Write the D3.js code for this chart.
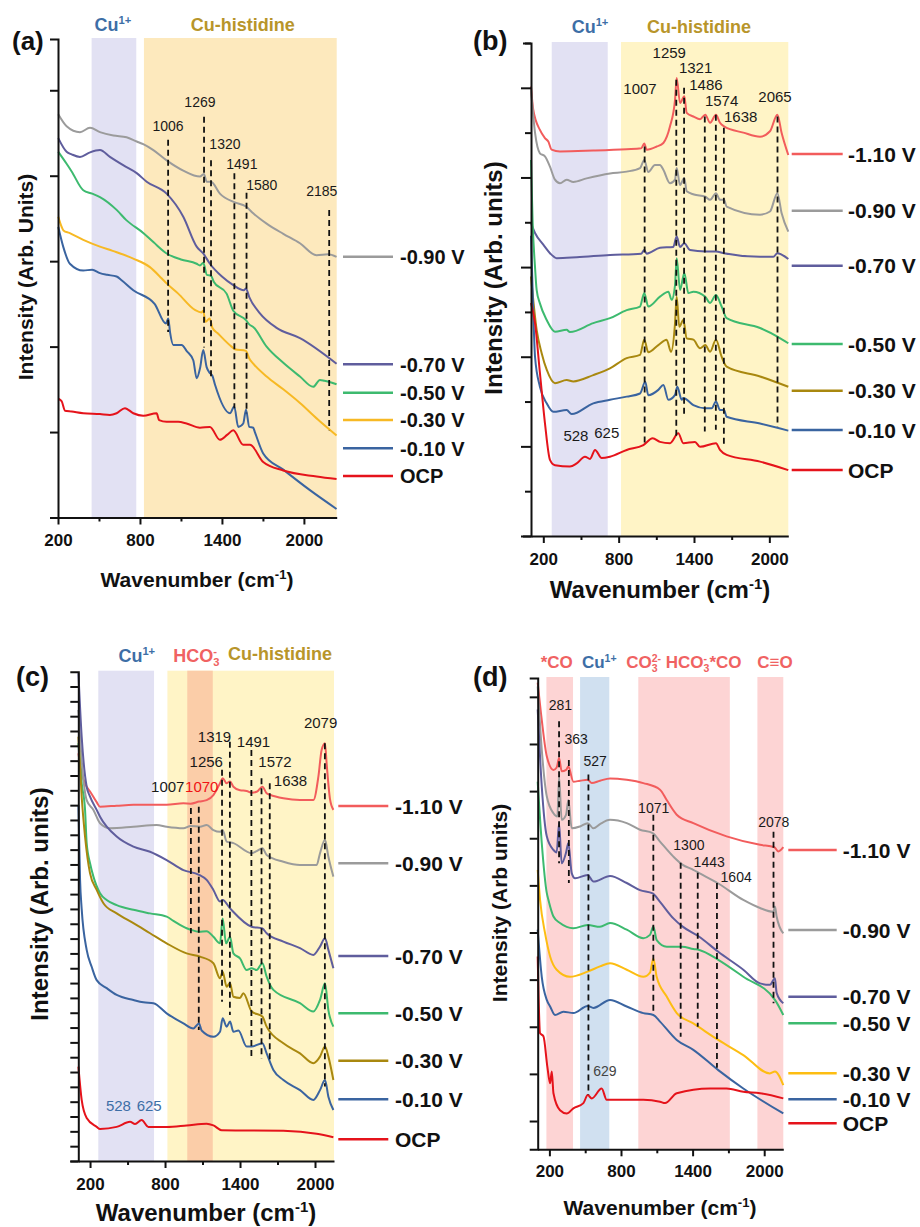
<!DOCTYPE html>
<html>
<head>
<meta charset="utf-8">
<script src="https://cdn.jsdelivr.net/npm/d3@7"></script>
<style>
  body { margin: 0; background: #fff; }
  svg { display: block; font-family: "Liberation Sans", Arial, sans-serif; }
</style>
</head>
<body>
<svg id="fig" width="920" height="1227"></svg>
<script>
// ---- data: [wavenumber, intensity (arb.)] ----
const xMajor = [200, 800, 1400, 2000];
const xMinor = [500, 1100, 1700];

// (a)
const a_m090 = [[202,4.72],[263,4.58],[361,4.51],[434,4.56],[507,4.51],[605,4.47],[702,4.45],[776,4.40],[824,4.37],[898,4.30],[995,4.18],[1117,4.06],[1239,3.99],[1268,4.02],[1288,3.93],[1320,3.93],[1385,3.79],[1490,3.69],[1576,3.64],[1629,3.56],[1727,3.44],[1849,3.32],[1971,3.21],[2093,3.07],[2178,3.08],[2239,3.05]];
const a_m070 = [[202,4.44],[263,4.28],[300,4.25],[361,4.22],[430,4.27],[507,4.30],[580,4.22],[680,4.12],[776,4.03],[849,3.93],[995,3.79],[1117,3.52],[1215,3.17],[1263,3.09],[1312,2.97],[1400,2.82],[1483,2.72],[1560,2.66],[1576,2.68],[1600,2.58],[1678,2.39],[1800,2.22],[1971,2.10],[2239,1.80]];
const a_m050 = [[202,4.28],[263,4.14],[300,4.05],[385,3.83],[450,3.79],[507,3.75],[629,3.60],[700,3.48],[824,3.33],[900,3.22],[995,3.09],[1100,3.02],[1215,2.97],[1239,2.95],[1263,2.98],[1290,2.84],[1320,2.83],[1340,2.76],[1434,2.62],[1483,2.42],[1576,2.31],[1600,2.26],[1629,2.23],[1727,2.00],[1849,1.81],[1971,1.65],[2068,1.53],[2117,1.61],[2150,1.60],[2239,1.56]];
const a_m030 = [[202,3.52],[227,3.40],[240,3.36],[283,3.33],[385,3.25],[507,3.17],[600,3.12],[751,3.03],[873,2.93],[958,2.80],[995,2.74],[1080,2.62],[1202,2.43],[1251,2.40],[1263,2.42],[1280,2.29],[1310,2.33],[1330,2.22],[1373,2.15],[1470,2.00],[1495,1.97],[1576,1.95],[1600,1.86],[1629,1.80],[1727,1.65],[1849,1.50],[1971,1.34],[2100,1.15],[2239,0.96]];
const a_m010 = [[202,3.40],[238,3.17],[287,2.97],[385,2.89],[450,2.90],[507,2.86],[560,2.84],[629,2.82],[663,2.78],[751,2.66],[907,2.50],[990,2.27],[1007,2.33],[1020,2.17],[1044,2.02],[1105,2.02],[1141,1.95],[1190,1.84],[1215,1.63],[1240,1.75],[1263,1.96],[1288,1.76],[1312,1.69],[1330,1.66],[1350,1.55],[1459,1.22],[1490,1.30],[1519,1.06],[1556,1.10],[1576,1.26],[1600,1.06],[1629,1.05],[1641,1.00],[1702,0.75],[1849,0.56],[2044,0.32],[2239,0.10]];
const a_ocp = [[202,1.39],[227,1.36],[251,1.25],[300,1.24],[385,1.22],[507,1.21],[580,1.20],[629,1.22],[690,1.28],[751,1.22],[824,1.19],[922,1.22],[940,1.14],[995,1.12],[1080,1.12],[1141,1.10],[1239,1.05],[1312,1.06],[1385,0.91],[1440,0.97],[1483,1.02],[1556,0.85],[1605,0.85],[1702,0.65],[1849,0.55],[2093,0.48],[2239,0.45]];
const a_peaks = [1006, 1269, 1320, 1491, 1580, 2185];

// (b)
const b_m110 = [[102,10.03],[120,9.51],[173,9.06],[213,8.88],[240,8.80],[266,8.62],[333,8.58],[598,8.60],[864,8.63],[980,8.65],[1004,8.76],[1023,8.62],[1103,8.69],[1156,8.77],[1209,9.14],[1249,9.73],[1262,10.22],[1289,9.66],[1323,9.81],[1342,9.44],[1395,9.36],[1448,9.30],[1490,9.40],[1528,9.22],[1575,9.40],[1607,9.22],[1639,9.14],[1793,9.00],[1926,8.91],[2005,9.03],[2064,9.40],[2098,8.99],[2151,8.50]];
const b_m090 = [[102,9.96],[134,9.00],[173,8.54],[213,8.47],[253,8.24],[293,7.95],[333,7.87],[386,7.95],[439,7.90],[545,7.98],[731,8.09],[864,8.13],[970,8.21],[1004,8.39],[1036,8.12],[1089,8.28],[1129,8.28],[1156,8.17],[1209,7.87],[1249,7.95],[1262,8.21],[1289,7.83],[1323,7.99],[1342,7.69],[1400,7.62],[1490,7.57],[1528,7.50],[1575,7.65],[1607,7.50],[1639,7.50],[1660,7.35],[1926,7.17],[2005,7.24],[2064,7.65],[2098,7.20],[2151,6.79]];
const b_m070 = [[102,6.98],[134,6.76],[200,6.50],[253,6.31],[306,6.20],[466,6.22],[731,6.27],[980,6.30],[1004,6.38],[1023,6.30],[1129,6.43],[1235,6.45],[1262,6.68],[1289,6.45],[1323,6.53],[1368,6.38],[1490,6.35],[1575,6.35],[1639,6.31],[1926,6.23],[2032,6.23],[2064,6.31],[2151,6.18]];
const b_m050 = [[102,8.39],[115,7.00],[134,6.00],[147,5.49],[173,5.19],[227,4.82],[293,4.56],[386,4.60],[412,4.55],[598,4.75],[731,4.86],[864,5.04],[970,5.12],[1004,5.42],[1036,5.12],[1129,5.34],[1196,5.45],[1222,5.27],[1249,5.60],[1262,6.20],[1289,5.49],[1323,5.87],[1355,5.42],[1395,5.45],[1490,5.34],[1528,5.20],[1575,5.38],[1620,5.12],[1660,4.86],[1926,4.64],[2064,4.45],[2151,4.30]];
const b_m030 = [[102,5.79],[147,4.60],[187,4.08],[227,3.71],[293,3.41],[386,3.48],[439,3.45],[598,3.59],[731,3.74],[864,3.97],[970,4.04],[1004,4.38],[1036,4.10],[1116,4.26],[1182,4.38],[1217,4.11],[1249,4.75],[1262,5.34],[1283,4.67],[1315,4.82],[1342,4.41],[1395,4.38],[1448,4.19],[1490,4.26],[1528,4.11],[1575,4.38],[1620,4.00],[1660,3.78],[1926,3.56],[2151,3.33]];
const b_m010 = [[102,6.70],[120,5.00],[134,4.00],[173,3.33],[227,2.96],[280,2.77],[386,2.81],[426,2.72],[598,2.96],[731,3.04],[864,3.11],[970,3.18],[1012,3.44],[1036,3.14],[1116,3.26],[1156,3.37],[1196,3.04],[1249,3.15],[1267,3.33],[1302,3.04],[1315,3.08],[1395,2.92],[1490,2.85],[1541,2.85],[1575,3.00],[1607,2.81],[1639,2.81],[1660,2.66],[1926,2.51],[2151,2.35]];
const b_ocp = [[102,5.20],[134,4.75],[173,3.64],[213,2.52],[253,1.70],[293,1.58],[412,1.55],[466,1.62],[532,1.77],[572,1.72],[612,1.92],[665,1.74],[731,1.77],[864,1.92],[997,2.03],[1071,2.18],[1129,2.10],[1209,2.07],[1275,2.29],[1315,2.07],[1408,2.10],[1448,1.99],[1575,2.07],[1607,1.92],[1660,1.81],[1926,1.66],[2151,1.47]];
const b_peaks = [1007, 1259, 1321, 1486, 1574, 1638, 2065];
const b_cuPeaks = [528, 625];

// (c)
const c_m110 = [[107,13.75],[133,13.08],[173,12.62],[200,12.46],[253,12.10],[280,11.95],[413,11.98],[547,12.01],[813,12.01],[947,12.06],[1005,12.05],[1072,12.12],[1133,12.17],[1187,12.34],[1240,12.74],[1261,12.91],[1293,12.74],[1320,12.80],[1347,12.62],[1400,12.50],[1453,12.48],[1493,12.42],[1533,12.45],[1579,12.62],[1613,12.40],[1640,12.35],[1747,12.23],[1880,12.17],[1987,12.17],[2027,12.96],[2053,13.86],[2080,14.09],[2093,13.41],[2120,12.20],[2147,11.84]];
const c_m090 = [[107,15.21],[133,13.52],[173,12.17],[227,11.84],[280,11.39],[360,11.22],[547,11.27],[733,11.33],[813,11.27],[947,11.22],[1005,11.30],[1080,11.27],[1133,11.33],[1187,11.16],[1240,11.10],[1261,11.16],[1293,10.77],[1347,10.72],[1493,10.38],[1533,10.45],[1579,10.55],[1613,10.32],[1747,10.09],[1880,9.98],[2013,9.98],[2040,10.38],[2080,10.83],[2107,10.26],[2147,9.59]];
const c_m070 = [[107,16.45],[133,14.31],[173,12.62],[200,12.29],[253,11.84],[280,11.61],[413,10.94],[547,10.60],[680,10.43],[813,10.15],[947,9.81],[1072,9.65],[1133,9.48],[1187,9.14],[1240,8.75],[1261,8.80],[1320,8.52],[1493,7.90],[1579,7.84],[1613,7.68],[1747,7.40],[1880,7.18],[1987,6.95],[2040,7.23],[2080,7.51],[2107,7.12],[2147,6.50]];
const c_m050 = [[107,14.09],[133,12.74],[160,11.84],[173,10.72],[200,10.04],[227,9.59],[280,9.03],[333,8.80],[413,8.63],[547,8.47],[680,8.35],[813,8.24],[867,8.10],[973,7.85],[1005,7.80],[1072,7.73],[1133,7.75],[1187,7.56],[1240,7.34],[1261,8.18],[1288,7.34],[1320,7.56],[1347,7.00],[1400,6.83],[1453,6.44],[1493,6.50],[1533,6.44],[1579,6.67],[1613,6.22],[1667,5.77],[1880,5.32],[1987,5.04],[2040,5.43],[2080,5.99],[2107,5.09],[2147,4.53]];
const c_m030 = [[107,14.31],[133,12.29],[160,10.94],[200,9.70],[253,9.14],[307,8.69],[413,8.35],[547,8.02],[680,7.68],[813,7.34],[973,7.00],[1080,6.89],[1187,6.67],[1240,6.16],[1261,6.38],[1293,5.88],[1320,6.00],[1347,5.54],[1400,5.50],[1427,5.66],[1493,5.04],[1579,4.87],[1613,4.53],[1747,3.97],[1880,3.63],[1987,3.30],[2040,3.52],[2080,3.86],[2107,3.52],[2147,2.73]];
const c_m010 = [[107,12.00],[120,9.50],[133,8.50],[173,7.12],[213,6.55],[253,6.10],[333,5.83],[413,5.60],[547,5.43],[627,5.35],[707,5.32],[813,4.98],[947,4.64],[1027,4.47],[1072,4.64],[1093,4.40],[1187,4.19],[1240,4.36],[1261,4.81],[1293,4.53],[1320,4.70],[1347,4.36],[1387,4.40],[1453,3.86],[1493,3.86],[1579,3.97],[1613,3.63],[1667,3.07],[1747,2.73],[1880,2.39],[1987,2.06],[2040,2.39],[2080,2.73],[2107,2.17],[2147,1.72]];
const c_ocp = [[107,3.18],[133,2.06],[173,1.45],[253,1.15],[280,1.08],[413,1.15],[520,1.32],[560,1.25],[613,1.38],[667,1.15],[813,1.15],[973,1.20],[1133,1.26],[1187,1.20],[1253,1.04],[1493,1.03],[1747,1.02],[2013,0.92],[2147,0.80]];
const c_peaks = [1007, 1070, 1256, 1319, 1491, 1572, 1638, 2079];
const c_cuPeaks = [528, 625];

// (d)
const d_m110 = [[102,9.30],[136,8.51],[178,7.74],[234,7.45],[261,7.50],[281,7.70],[303,7.42],[340,7.45],[359,7.52],[401,7.20],[457,7.22],[521,7.24],[555,7.17],[624,7.22],[708,7.27],[848,7.24],[987,7.17],[1127,7.03],[1183,6.81],[1267,6.50],[1406,6.32],[1685,6.04],[1965,5.86],[2085,5.81],[2118,5.72],[2160,5.81]];
const d_m090 = [[102,9.22],[136,7.88],[178,6.89],[234,6.53],[267,6.46],[281,7.31],[303,6.39],[340,6.50],[359,6.81],[387,6.21],[457,6.25],[521,6.32],[569,6.21],[624,6.30],[708,6.39],[848,6.32],[959,6.18],[1066,6.11],[1127,5.93],[1239,5.61],[1314,5.44],[1406,5.33],[1456,5.26],[1615,5.04],[1825,4.69],[1965,4.52],[2076,4.44],[2090,4.55],[2104,4.34],[2160,3.98]];
const d_m070 = [[102,8.73],[136,7.10],[178,6.04],[234,5.75],[261,5.70],[281,6.32],[303,5.47],[340,5.70],[359,5.90],[387,5.26],[415,5.15],[521,5.22],[569,5.08],[708,5.20],[848,5.05],[959,4.90],[1066,4.83],[1127,4.65],[1239,4.30],[1314,4.13],[1456,3.91],[1615,3.59],[1825,3.21],[1965,2.92],[2048,2.89],[2090,3.03],[2104,2.72],[2160,2.50]];
const d_m050 = [[102,7.20],[136,5.90],[178,4.84],[192,4.69],[234,4.34],[289,4.20],[401,4.09],[521,4.16],[624,4.12],[708,4.20],[848,4.06],[987,3.88],[1043,3.95],[1071,4.13],[1099,3.84],[1183,3.70],[1314,3.70],[1406,3.65],[1456,3.63],[1615,3.42],[1825,3.06],[2090,2.57],[2160,2.25]];
const d_m030 = [[102,5.33],[122,4.69],[164,3.98],[206,3.49],[261,3.21],[373,3.06],[521,3.17],[624,3.28],[708,3.35],[848,3.21],[987,3.06],[1043,3.15],[1071,3.45],[1099,3.06],[1183,2.64],[1267,2.29],[1406,2.07],[1615,1.72],[1825,1.40],[2048,1.01],[2090,1.05],[2160,0.76]];
const d_m010 = [[102,4.06],[136,3.06],[178,2.57],[206,2.43],[247,2.25],[317,2.32],[401,2.29],[521,2.44],[569,2.40],[708,2.57],[848,2.43],[987,2.29],[1071,2.25],[1127,2.11],[1267,1.72],[1406,1.51],[1615,1.08],[1825,0.69],[2160,0.16]];
const d_ocp = [[102,3.49],[122,1.86],[150,1.80],[183,1.15],[206,0.80],[220,1.05],[234,0.59],[289,0.23],[345,0.16],[401,0.27],[485,0.38],[521,0.55],[555,0.48],[638,0.69],[680,0.45],[848,0.45],[987,0.45],[1127,0.41],[1169,0.38],[1267,0.59],[1546,0.69],[1685,0.69],[1825,0.62],[1965,0.59],[2160,0.48]];
const d_peaks = [281, 363, 527, 1071, 1300, 1443, 1604, 2078];
const d_cuPeak = [629];

// ---- styles ----
const GRAY = '#9b9b9b', PURPLE = '#5f5d9d', GREEN = '#3dba6f', YELLOW = '#f7b924',
      YELLOW_D = '#fdbd12', OLIVE = '#a9880f', BLUE = '#3a64a0', OCP = '#e5131b', RED110 = '#f25c5c';
const LAV = '#e2e1f3', ORANGE_BAND = '#fde9bd', YEL_BAND = '#fff4c6', PEACH = '#fbcda8',
      PINK = '#fdd4d4', SKY = '#d0e0f0';
const CU_BLUE = '#3d6ea6', GOLD = '#b8952a', PINK_TXT = '#f06262';
const FONT = '"Liberation Sans", Arial, sans-serif';

const svg = d3.select('#fig');
svg.append('rect').attr('width', 920).attr('height', 1227).attr('fill', '#fff');

// text with sub/superscripts, parts placed one after the other
function rich(g, x, y, parts, size, fill, anchor, weight) {
  const t = g.append('text').attr('font-size', size).attr('font-weight', weight || 'bold').attr('fill', fill);
  let cx = 0, lastW = 0;
  const spans = [];
  parts.forEach(p => {
    const small = p.sub || p.sup;
    const px = p.stack ? cx - lastW : cx;
    const ts = t.append('tspan')
      .attr('y', y + (p.sub ? size * 0.24 : p.sup ? -size * 0.38 : 0))
      .attr('font-size', small ? size * 0.62 : size)
      .text(p.t);
    if (p.fill) ts.attr('fill', p.fill);
    const w = ts.node().getComputedTextLength();
    spans.push([ts, px]);
    cx = p.stack ? Math.max(cx, px + w) : px + w;
    lastW = w;
  });
  const off = anchor === 'middle' ? -cx / 2 : 0;
  spans.forEach(([ts, px]) => ts.attr('x', x + px + off));
  return t;
}

function panel(cfg) {
  const g = svg.append('g');
  const x = d3.scaleLinear().domain(cfg.xDomain).range(cfg.xRange);
  const y = d3.scaleLinear().domain(cfg.yDomain).range(cfg.yRange);
  const yTop = cfg.yRange[1], yBot = cfg.yRange[0];

  // shaded bands
  cfg.bands.forEach(b => {
    g.append('rect')
      .attr('x', x(b.from)).attr('width', x(b.to) - x(b.from))
      .attr('y', yTop - 1).attr('height', yBot - yTop + 1)
      .attr('fill', b.fill);
  });
  cfg.titles.forEach(t => rich(g, x(t.wn), t.y, t.parts, t.size, t.fill, t.anchor || 'middle'));

  // spectra
  const line = d3.line().x(d => x(d[0])).y(d => y(d[1])).curve(d3.curveMonotoneX);
  cfg.series.forEach(s => {
    g.append('path').attr('d', line(s.data)).attr('fill', 'none')
      .attr('stroke', s.color).attr('stroke-width', 2).attr('stroke-linejoin', 'round');
  });

  // dashed peak markers
  cfg.peaks.forEach((p, i) => {
    g.append('line')
      .attr('x1', x(p)).attr('x2', x(p))
      .attr('y1', y(cfg.peakTop[i])).attr('y2', y(cfg.peakBottom[i]))
      .attr('stroke', '#111').attr('stroke-width', 1.8).attr('stroke-dasharray', '6,4');
    const at = cfg.peakLabelAt[i];
    g.append('text').attr('x', x(at[0])).attr('y', y(at[1]))
      .attr('text-anchor', 'middle').attr('font-size', cfg.peakSize)
      .attr('fill', (cfg.peakColor && cfg.peakColor[i]) || '#1a1a1a')
      .text(p);
  });
  (cfg.extraLabels || []).forEach(l => {
    g.append('text').attr('x', x(l.at[0])).attr('y', y(l.at[1]))
      .attr('text-anchor', 'middle').attr('font-size', cfg.peakSize).attr('fill', l.fill)
      .text(l.text);
  });

  // legend
  cfg.series.forEach((s, i) => {
    const ly = cfg.legend.ys[i];
    g.append('line').attr('x1', cfg.legend.x1).attr('x2', cfg.legend.x2)
      .attr('y1', ly).attr('y2', ly).attr('stroke', s.color).attr('stroke-width', 2.5);
    g.append('text').attr('x', cfg.legend.tx).attr('y', ly + cfg.legend.size * 0.36)
      .attr('font-size', cfg.legend.size).attr('font-weight', 'bold').attr('fill', '#111')
      .text(s.name);
  });

  // axes
  const xAxis = d3.axisBottom(x)
    .tickValues(xMajor.concat(xMinor))
    .tickFormat(d => xMajor.includes(d) ? d : '')
    .tickSize(7).tickSizeOuter(0).tickPadding(cfg.tickPad);
  const gx = g.append('g').attr('transform', `translate(0,${yBot})`).call(xAxis);
  gx.selectAll('.tick line').attr('y2', d => xMajor.includes(d) ? 7 : 4);

  const yAxis = d3.axisLeft(y).tickValues(cfg.yTicks).tickFormat('').tickSizeOuter(0).tickSize(8);
  const gy = g.append('g').attr('transform', `translate(${cfg.xRange[0]},0)`).call(yAxis);
  if (cfg.yLong) gy.selectAll('.tick line').attr('x2', d => cfg.yLong(d) ? -10 : -6);

  [gx, gy].forEach(a => {
    a.attr('font-family', FONT).attr('font-size', cfg.tickSize).attr('font-weight', 'bold');
    a.selectAll('path, line').attr('stroke', '#111').attr('stroke-width', 2);
    a.selectAll('text').attr('fill', '#111');
  });

  // titles
  rich(g, cfg.xTitle.x, cfg.xTitle.y,
    [{t: 'Wavenumber (cm'}, {t: '-1', sup: true}, {t: ')'}], cfg.xTitle.size, '#111', 'middle');
  g.append('text')
    .attr('transform', `translate(${cfg.yTitle.x},${cfg.yTitle.y}) rotate(-90)`)
    .attr('text-anchor', 'middle').attr('font-size', cfg.yTitle.size).attr('font-weight', 'bold')
    .attr('fill', '#111').text(cfg.yTitle.text);
  g.append('text').attr('x', cfg.letter.x).attr('y', cfg.letter.y)
    .attr('font-size', cfg.letter.size).attr('font-weight', 'bold').attr('fill', '#111')
    .text(cfg.letter.text);
}

const cu = [{t: 'Cu'}, {t: '1+', sup: true}];

// (a)
panel({
  xDomain: [200, 2240], xRange: [58, 336.7],
  yDomain: [0, 5.6], yRange: [517.5, 39],
  yTicks: d3.range(0, 5.01, 1),
  bands: [{from: 446, to: 773, fill: LAV}, {from: 829, to: 2240, fill: ORANGE_BAND}],
  titles: [
    {wn: 602, y: 31, parts: cu, size: 18, fill: CU_BLUE},
    {wn: 1553, y: 31, parts: [{t: 'Cu-histidine'}], size: 18, fill: GOLD}
  ],
  series: [
    {data: a_m090, color: GRAY, name: '-0.90 V'},
    {data: a_m070, color: PURPLE, name: '-0.70 V'},
    {data: a_m050, color: GREEN, name: '-0.50 V'},
    {data: a_m030, color: YELLOW, name: '-0.30 V'},
    {data: a_m010, color: BLUE, name: '-0.10 V'},
    {data: a_ocp, color: OCP, name: 'OCP'}
  ],
  legend: {x1: 343, x2: 393, tx: 400, size: 20, ys: [256.7, 364.3, 392.7, 420, 448.3, 476]},
  peaks: a_peaks,
  peakTop: [4.42, 4.69, 4.18, 4.03, 3.80, 3.60],
  peakBottom: [2.17, 1.99, 1.64, 1.28, 1.22, 1.02],
  peakLabelAt: [[1005, 4.52], [1239, 4.80], [1422, 4.31], [1546, 4.08], [1692, 3.83], [2131, 3.76]],
  peakSize: 14,
  tickSize: 17, tickPad: 9,
  xTitle: {x: 197, y: 587, size: 21},
  yTitle: {x: 33, y: 277, size: 21, text: 'Intensity (Arb. Units)'},
  letter: {x: 12, y: 50, size: 26, text: '(a)'}
});

// (b)
panel({
  xDomain: [102, 2151], xRange: [531, 788.3],
  yDomain: [0, 11], yRange: [536, 43],
  yTicks: d3.range(0, 11.01, 1), yLong: d => d % 2 === 0,
  bands: [{from: 267, to: 713, fill: LAV}, {from: 819, to: 2151, fill: YEL_BAND}],
  titles: [
    {wn: 572, y: 33, parts: cu, size: 18, fill: CU_BLUE},
    {wn: 1440, y: 33, parts: [{t: 'Cu-histidine'}], size: 18, fill: GOLD}
  ],
  series: [
    {data: b_m110, color: RED110, name: '-1.10 V'},
    {data: b_m090, color: GRAY, name: '-0.90 V'},
    {data: b_m070, color: PURPLE, name: '-0.70 V'},
    {data: b_m050, color: GREEN, name: '-0.50 V'},
    {data: b_m030, color: OLIVE, name: '-0.30 V'},
    {data: b_m010, color: BLUE, name: '-0.10 V'},
    {data: b_ocp, color: OCP, name: 'OCP'}
  ],
  legend: {x1: 791.7, x2: 842.7, tx: 848, size: 21, ys: [154, 210.7, 265.7, 344, 390.7, 430, 470]},
  peaks: b_peaks,
  peakTop: [8.69, 10.18, 10.0, 9.36, 9.40, 9.11, 9.36],
  peakBottom: [2.03, 2.22, 2.66, 2.33, 2.37, 2.03, 2.44],
  peakLabelAt: [[970, 9.87], [1203, 10.67], [1413, 10.33], [1495, 9.96], [1620, 9.60], [1772, 9.23], [2045, 9.69]],
  extraLabels: [
    {text: b_cuPeaks[0], at: [460, 2.12], fill: '#1a1a1a'},
    {text: b_cuPeaks[1], at: [705, 2.19], fill: '#1a1a1a'}
  ],
  peakSize: 15,
  tickSize: 17, tickPad: 10,
  xTitle: {x: 660, y: 598, size: 24},
  yTitle: {x: 502, y: 278, size: 24, text: 'Intensity (Arb. units)'},
  letter: {x: 473, y: 50, size: 27, text: '(b)'}
});

// (c)
panel({
  xDomain: [106, 2152], xRange: [78.3, 334],
  yDomain: [0, 16.5], yRange: [1161, 671.7],
  yTicks: d3.range(0, 16.01, 0.5),
  bands: [{from: 266, to: 712, fill: LAV}, {from: 819, to: 2152, fill: YEL_BAND}, {from: 978, to: 1182, fill: PEACH}],
  titles: [
    {wn: 574, y: 662, parts: cu, size: 18, fill: CU_BLUE},
    {wn: 866, y: 662, parts: [{t: 'HCO'}, {t: '3', sub: true}, {t: '-', sup: true, stack: true}], size: 18, fill: PINK_TXT, anchor: 'start'},
    {wn: 1720, y: 660, parts: [{t: 'Cu-histidine'}], size: 18, fill: GOLD}
  ],
  series: [
    {data: c_m110, color: RED110, name: '-1.10 V'},
    {data: c_m090, color: GRAY, name: '-0.90 V'},
    {data: c_m070, color: PURPLE, name: '-0.70 V'},
    {data: c_m050, color: GREEN, name: '-0.50 V'},
    {data: c_m030, color: OLIVE, name: '-0.30 V'},
    {data: c_m010, color: BLUE, name: '-0.10 V'},
    {data: c_ocp, color: OCP, name: 'OCP'}
  ],
  legend: {x1: 338.3, x2: 388.3, tx: 395, size: 21, ys: [806, 863.3, 956, 1013.3, 1060.7, 1099.3, 1139.3]},
  peaks: c_peaks,
  peakTop: [11.90, 11.95, 13.19, 14.14, 13.86, 12.91, 12.74, 14.09],
  peakBottom: [7.68, 4.42, 5.37, 4.92, 3.46, 3.46, 3.30, 2.51],
  peakLabelAt: [[822, 12.46], [1094, 12.46], [1130, 13.30], [1196, 14.14], [1508, 13.95], [1680, 13.30], [1804, 12.65], [2045, 14.59]],
  peakColor: [null, '#f01414'],
  extraLabels: [
    {text: c_cuPeaks[0], at: [427, 1.69], fill: CU_BLUE},
    {text: c_cuPeaks[1], at: [673, 1.69], fill: CU_BLUE}
  ],
  peakSize: 15,
  tickSize: 17, tickPad: 10,
  xTitle: {x: 206, y: 1221, size: 24},
  yTitle: {x: 48, y: 904, size: 24, text: 'Intensity (Arb. units)'},
  letter: {x: 16, y: 686, size: 27, text: '(c)'}
});

// (d)
panel({
  xDomain: [102, 2160], xRange: [537.7, 783.3],
  yDomain: [-0.6, 9.4], yRange: [1149.3, 678],
  yTicks: d3.range(0, 9.01, 1),
  bands: [{from: 175, to: 398, fill: PINK}, {from: 457, to: 702, fill: SKY}, {from: 945, to: 1712, fill: PINK}, {from: 1943, to: 2160, fill: PINK}],
  titles: [
    {wn: 262, y: 668, parts: [{t: '*CO'}], size: 17, fill: PINK_TXT},
    {wn: 618, y: 668, parts: cu, size: 17, fill: CU_BLUE},
    {wn: 1327, y: 668, parts: [{t: 'CO'}, {t: '3', sub: true}, {t: '2-', sup: true, stack: true}, {t: ' HCO'}, {t: '3', sub: true}, {t: '-', sup: true, stack: true}, {t: '*CO'}], size: 17, fill: PINK_TXT},
    {wn: 2090, y: 668, parts: [{t: 'C\u2261O'}], size: 17, fill: PINK_TXT}
  ],
  series: [
    {data: d_m110, color: RED110, name: '-1.10 V'},
    {data: d_m090, color: GRAY, name: '-0.90 V'},
    {data: d_m070, color: PURPLE, name: '-0.70 V'},
    {data: d_m050, color: GREEN, name: '-0.50 V'},
    {data: d_m030, color: YELLOW_D, name: '-0.30 V'},
    {data: d_m010, color: BLUE, name: '-0.10 V'},
    {data: d_ocp, color: OCP, name: 'OCP'}
  ],
  legend: {x1: 788.3, x2: 836.7, tx: 842.7, size: 21, ys: [850, 930, 996.7, 1023.3, 1073.3, 1099.3, 1123.3]},
  peaks: d_peaks,
  peakTop: [8.48, 7.66, 7.35, 6.50, 5.48, 5.27, 5.05, 6.14],
  peakBottom: [5.47, 5.05, 0.55, 2.29, 1.79, 2.00, 1.13, 2.50],
  peakLabelAt: [[292, 8.73], [424, 8.00], [583, 7.54], [1074, 6.53], [1369, 5.75], [1539, 5.40], [1765, 5.08], [2080, 6.23]],
  extraLabels: [{text: d_cuPeak[0], at: [665, 0.96], fill: '#444'}],
  peakSize: 14,
  tickSize: 17, tickPad: 9,
  xTitle: {x: 660, y: 1215, size: 21},
  yTitle: {x: 507, y: 903, size: 21, text: 'Intensity (Arb units)'},
  letter: {x: 473, y: 686, size: 27, text: '(d)'}
});
</script>
</body>
</html>
